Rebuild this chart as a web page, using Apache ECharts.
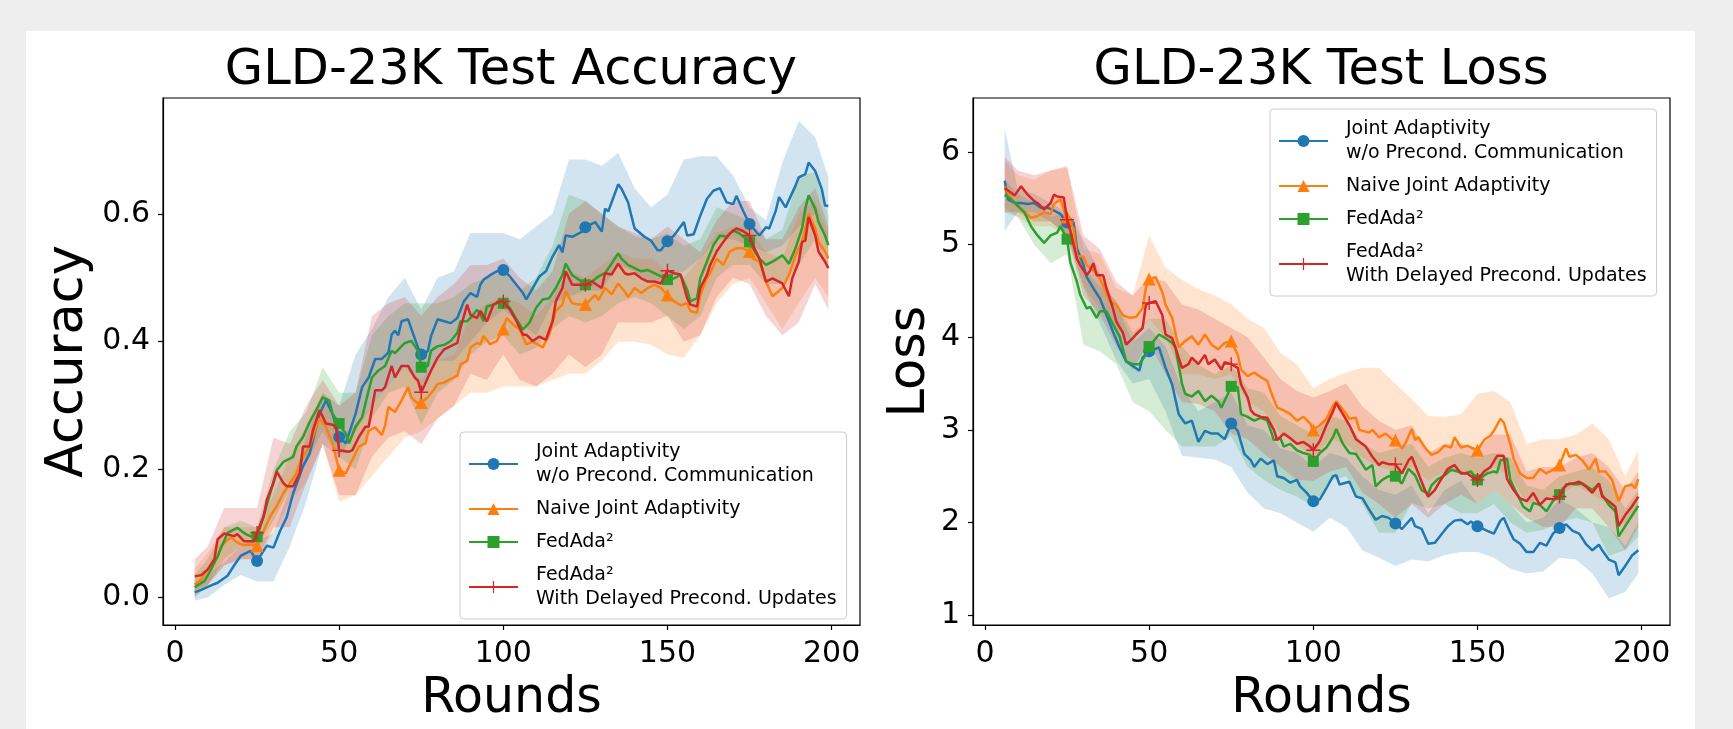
<!DOCTYPE html>
<html>
<head>
<meta charset="utf-8">
<script src="https://cdn.jsdelivr.net/npm/echarts@6/dist/echarts.min.js"></script>
<style>
  html, body { margin: 0; padding: 0; background: #eeeeee; }
  #panel { position: absolute; left: 26px; top: 31px; width: 1669px; height: 698px; background: #ffffff; }
  #chart { position: absolute; left: 0; top: 0; width: 1733px; height: 729px; }
</style>
</head>
<body>
<div id="panel"></div>
<div id="chart"></div>
<script>
// legend labels / series names
const seriesNames = [
  'Joint Adaptivity\nw/o Precond. Communication',
  'Naive Joint Adaptivity',
  'FedAda²',
  'FedAda²\nWith Delayed Precond. Updates'
];
const roundTicks = [0, 50, 100, 150, 200];
const accTicks = [0, 0.2, 0.4, 0.6];
const lossTicks = [1, 2, 3, 4, 5, 6];
const markerRounds = [25, 50, 75, 100, 125, 150, 175];

// ---- test accuracy, mean curves [round, value]
const accJoint = [[6,.008],[8,.012],[11,.019],[13,.023],[16,.034],[18,.05],[20,.065],[23,.073],[25,.057],[28,.081],[30,.078],[32,.104],[34,.125],[36,.163],[39,.205],[41,.225],[44,.287],[46,.308],[48,.287],[50,.251],[52,.241],[55,.287],[57,.329],[59,.344],[61,.373],[63,.373],[65,.383],[66,.411],[67,.417],[68,.41],[69,.432],[71,.435],[72,.42],[74,.391],[75,.380],[77,.385],[78,.409],[80,.435],[82,.432],[84,.429],[86,.437],[88,.463],[90,.476],[92,.47],[93,.489],[94,.497],[96,.504],[98,.51],[100,.512],[102,.502],[104,.489],[106,.476],[107,.466],[109,.484],[111,.502],[113,.51],[115,.533],[117,.551],[118,.54],[119,.566],[121,.564],[124,.572],[125,.579],[128,.587],[130,.572],[131,.608],[132,.604],[135,.646],[136,.639],[138,.618],[139,.597],[140,.577],[143,.564],[145,.558],[147,.543],[148,.543],[150,.557],[152,.566],[155,.587],[156,.566],[158,.568],[160,.597],[162,.623],[164,.636],[166,.64],[168,.618],[170,.615],[171,.628],[173,.605],[175,.584],[178,.566],[180,.579],[181,.577],[183,.605],[184,.626],[186,.61],[189,.644],[190,.657],[192,.662],[193,.68],[195,.667],[197,.639],[198,.613],[199,.612]];
const accNaive = [[6,.020],[8,.029],[10,.044],[13,.063],[14,.081],[17,.094],[19,.086],[21,.082],[23,.083],[25,.081],[27,.104],[29,.127],[31,.143],[33,.163],[35,.179],[37,.194],[39,.22],[41,.236],[43,.267],[44,.28],[46,.267],[48,.241],[50,.199],[52,.194],[54,.215],[56,.236],[58,.241],[59,.261],[61,.266],[63,.254],[64,.269],[65,.298],[67,.29],[69,.308],[71,.329],[72,.313],[74,.303],[75,.305],[77,.313],[79,.326],[80,.334],[82,.336],[84,.342],[86,.347],[87,.365],[89,.37],[90,.391],[92,.398],[93,.396],[94,.409],[96,.396],[98,.401],[100,.42],[101,.437],[103,.427],[105,.419],[107,.396],[109,.40],[112,.391],[114,.411],[116,.448],[118,.458],[119,.479],[121,.46],[123,.458],[125,.458],[128,.473],[129,.465],[131,.484],[133,.474],[135,.491],[137,.478],[138,.47],[140,.484],[142,.476],[144,.484],[146,.489],[148,.484],[150,.473],[152,.463],[154,.457],[156,.46],[157,.448],[159,.445],[160,.473],[162,.499],[163,.507],[165,.53],[167,.52],[169,.541],[171,.546],[173,.546],[175,.541],[176,.53],[178,.525],[180,.494],[182,.471],[185,.484],[187,.504],[189,.535],[191,.556],[192,.577],[193,.60],[195,.577],[196,.556],[198,.541],[199,.53]];
const accFedAda = [[6,.016],[9,.026],[11,.044],[13,.065],[16,.101],[19,.109],[21,.101],[22,.098],[24,.094],[25,.095],[27,.127],[29,.163],[31,.199],[33,.212],[36,.22],[37,.236],[39,.251],[41,.274],[43,.293],[45,.313],[47,.308],[48,.287],[50,.272],[52,.256],[53,.241],[55,.267],[57,.282],[59,.324],[60,.344],[62,.355],[64,.362],[66,.386],[67,.382],[70,.398],[72,.401],[74,.386],[75,.36],[77,.362],[78,.386],[80,.393],[82,.395],[84,.401],[86,.414],[87,.432],[89,.432],[90,.437],[92,.45],[93,.443],[94,.432],[95,.455],[97,.458],[99,.463],[100,.46],[102,.453],[104,.435],[106,.419],[108,.43],[110,.453],[112,.466],[114,.468],[116,.484],[118,.504],[119,.522],[121,.504],[123,.497],[125,.489],[127,.494],[129,.502],[131,.507],[133,.522],[135,.538],[136,.53],[138,.52],[140,.515],[142,.51],[144,.512],[146,.507],[148,.502],[150,.497],[152,.499],[154,.504],[156,.481],[157,.463],[159,.468],[160,.499],[162,.525],[164,.551],[166,.566],[168,.564],[170,.574],[172,.569],[175,.556],[176,.546],[178,.53],[180,.52],[182,.525],[185,.535],[187,.522],[189,.546],[191,.577],[192,.608],[193,.629],[195,.608],[196,.587],[198,.566],[199,.551]];
const accDelayed = [[6,.033],[8,.035],[10,.044],[12,.06],[13,.091],[15,.10],[18,.096],[19,.099],[21,.088],[22,.088],[24,.088],[25,.101],[27,.127],[28,.153],[30,.179],[31,.197],[33,.179],[34,.174],[36,.174],[38,.194],[39,.236],[41,.236],[42,.261],[44,.293],[46,.272],[48,.27],[49,.267],[50,.23],[53,.228],[54,.23],[56,.251],[58,.267],[59,.267],[61,.324],[63,.324],[64,.329],[66,.362],[67,.344],[69,.362],[71,.362],[73,.344],[74,.339],[75,.321],[76,.332],[78,.355],[80,.375],[82,.388],[84,.393],[86,.398],[87,.422],[89,.458],[90,.442],[92,.437],[93,.448],[95,.432],[97,.458],[99,.463],[100,.463],[102,.45],[104,.432],[106,.411],[107,.411],[109,.401],[111,.408],[113,.403],[115,.432],[116,.463],[118,.484],[119,.51],[121,.489],[123,.489],[125,.489],[127,.494],[130,.484],[131,.507],[133,.505],[135,.522],[137,.507],[138,.505],[140,.507],[142,.499],[144,.494],[146,.494],[148,.491],[150,.511],[152,.507],[154,.505],[156,.468],[157,.458],[159,.455],[160,.484],[162,.504],[163,.52],[165,.541],[167,.556],[169,.569],[171,.577],[173,.573],[175,.566],[176,.551],[178,.53],[180,.494],[182,.499],[185,.491],[187,.471],[188,.499],[190,.525],[191,.556],[192,.558],[193,.595],[195,.566],[196,.541],[198,.525],[199,.515]];

// ---- shaded bands (std), sampled rounds
const bandRounds = [6,10,15,20,25,30,35,40,45,50,55,60,65,70,75,80,85,90,95,100,105,110,115,120,125,130,135,140,145,150,155,160,165,170,175,180,185,190,195,199];
const accJointHigh = [.02,.035,.055,.08,.09,.10,.17,.25,.32,.30,.38,.42,.47,.50,.45,.50,.51,.57,.57,.57,.56,.58,.60,.685,.685,.675,.695,.64,.61,.63,.685,.69,.69,.66,.61,.59,.68,.745,.72,.657];
const accJointLow = [-.005,0,.02,.035,.025,.025,.08,.15,.24,.22,.26,.30,.33,.36,.33,.37,.37,.40,.43,.45,.43,.41,.46,.47,.48,.48,.52,.51,.49,.50,.51,.53,.56,.56,.55,.54,.55,.58,.60,.56];
const accNaiveHigh = [.045,.07,.11,.11,.11,.16,.22,.27,.32,.25,.27,.30,.33,.36,.34,.37,.38,.44,.46,.47,.46,.44,.47,.51,.50,.52,.54,.53,.53,.51,.50,.53,.57,.58,.58,.54,.53,.60,.62,.57];
const accNaiveLow = [0,.02,.05,.06,.06,.10,.15,.18,.24,.15,.16,.19,.22,.25,.26,.28,.30,.32,.32,.33,.33,.33,.34,.35,.35,.37,.40,.40,.395,.38,.375,.41,.46,.49,.50,.46,.42,.46,.50,.47];
const accFedAdaHigh = [.035,.06,.11,.12,.11,.20,.26,.29,.36,.32,.32,.41,.44,.46,.46,.46,.47,.49,.50,.51,.48,.50,.55,.63,.62,.60,.58,.565,.56,.57,.55,.56,.61,.60,.59,.56,.575,.66,.665,.597];
const accFedAdaLow = [0,.02,.06,.08,.08,.12,.17,.21,.26,.22,.20,.28,.32,.33,.27,.32,.34,.38,.40,.41,.38,.39,.42,.44,.43,.44,.46,.47,.46,.44,.42,.44,.50,.52,.52,.49,.49,.52,.56,.51];
const accDelayedHigh = [.06,.08,.14,.14,.14,.25,.24,.30,.34,.30,.32,.44,.46,.47,.44,.47,.49,.52,.52,.53,.50,.48,.51,.60,.62,.60,.58,.57,.56,.58,.56,.54,.59,.62,.62,.56,.56,.61,.64,.58];
const accDelayedLow = [.01,.02,.05,.06,.06,.11,.11,.18,.24,.16,.16,.22,.25,.26,.24,.28,.30,.35,.34,.38,.34,.33,.35,.38,.36,.38,.43,.43,.43,.44,.40,.41,.47,.50,.49,.44,.41,.43,.49,.45];

// ---- test loss, mean curves [round, value]
const lossJoint = [[6,5.69],[7,5.49],[9,5.45],[11,5.45],[13,5.44],[15,5.45],[17,5.40],[19,5.40],[21,5.37],[23,5.33],[25,5.24],[27,5.24],[28,4.96],[30,4.78],[31,4.65],[33,4.53],[35,4.42],[37,4.24],[39,4.06],[41,3.89],[43,3.74],[45,3.69],[47,3.64],[48,3.78],[50,3.85],[53,3.89],[55,3.67],[57,3.49],[59,3.17],[61,3.07],[63,3.10],[65,2.87],[67,2.99],[69,2.96],[71,2.96],[73,2.90],[75,3.07],[77,2.99],[79,2.74],[81,2.67],[82,2.60],[84,2.69],[86,2.63],[88,2.67],[89,2.50],[91,2.48],[93,2.43],[95,2.46],[96,2.39],[98,2.32],[100,2.23],[102,2.25],[104,2.37],[106,2.50],[107,2.51],[108,2.41],[111,2.44],[113,2.28],[115,2.26],[117,2.14],[119,2.03],[121,2.07],[123,2.05],[125,1.99],[127,1.93],[130,2.05],[131,1.96],[133,1.93],[135,1.77],[137,1.78],[139,1.87],[141,1.96],[143,2.02],[145,2.03],[147,1.98],[148,2.01],[150,1.96],[153,1.91],[155,1.88],[157,2.02],[158,2.05],[160,1.89],[161,1.82],[163,1.77],[165,1.68],[167,1.68],[169,1.78],[171,1.75],[173,1.88],[175,1.94],[177,1.98],[179,1.91],[181,1.88],[183,1.77],[185,1.70],[187,1.76],[188,1.70],[190,1.60],[192,1.57],[193,1.43],[195,1.53],[197,1.64],[199,1.70]];
const lossNaive = [[6,5.63],[8,5.49],[10,5.42],[12,5.35],[14,5.29],[16,5.31],[18,5.35],[20,5.33],[21,5.44],[23,5.49],[24,5.38],[25,5.30],[27,5.17],[28,4.88],[30,4.87],[31,4.78],[33,4.72],[34,4.70],[36,4.56],[38,4.39],[40,4.35],[42,4.24],[44,4.21],[46,4.22],[48,4.31],[49,4.53],[50,4.63],[52,4.65],[54,4.49],[55,4.35],[57,4.21],[59,3.89],[61,3.96],[63,4.01],[65,3.92],[67,4.03],[69,3.92],[71,3.87],[73,3.94],[75,3.96],[77,3.81],[78,3.65],[80,3.58],[82,3.62],[84,3.57],[86,3.53],[87,3.42],[89,3.24],[91,3.21],[93,3.17],[95,3.10],[97,3.14],[99,3.07],[100,3.0],[102,3.05],[104,3.12],[106,3.26],[107,3.31],[109,3.22],[111,3.12],[113,3.13],[114,3.0],[117,2.97],[118,3.0],[120,2.92],[122,2.96],[124,2.90],[125,2.89],[127,2.80],[128,2.85],[130,3.01],[131,2.89],[132,2.92],[134,2.81],[136,2.73],[138,2.76],[140,2.83],[142,2.81],[143,2.92],[145,2.81],[147,2.83],[148,2.81],[150,2.78],[152,2.89],[154,2.94],[155,2.99],[157,3.12],[158,3.08],[160,2.85],[161,2.69],[163,2.53],[165,2.48],[167,2.48],[169,2.58],[171,2.53],[173,2.57],[175,2.62],[177,2.80],[178,2.71],[180,2.73],[182,2.67],[184,2.57],[186,2.69],[187,2.55],[189,2.55],[191,2.46],[193,2.23],[195,2.39],[197,2.41],[198,2.37],[199,2.47]];
const lossFedAda = [[6,5.54],[8,5.49],[10,5.42],[12,5.35],[14,5.20],[16,5.10],[18,5.02],[20,5.10],[22,5.13],[23,5.20],[25,5.06],[26,4.81],[28,4.60],[29,4.46],[31,4.31],[32,4.33],[34,4.21],[35,4.28],[37,4.28],[39,4.14],[41,4.01],[43,3.74],[45,3.71],[47,3.71],[49,3.81],[50,3.90],[53,4.03],[55,3.99],[57,3.94],[58,3.89],[60,3.50],[61,3.39],[63,3.36],[65,3.42],[67,3.31],[69,3.37],[71,3.31],[72,3.24],[74,3.39],[75,3.47],[77,3.46],[78,3.17],[80,3.14],[82,3.10],[84,3.13],[86,3.10],[88,2.89],[90,2.91],[91,2.82],[93,2.85],[95,2.78],[97,2.75],[99,2.73],[100,2.66],[102,2.75],[104,2.81],[106,2.92],[107,3.01],[109,2.85],[111,2.75],[113,2.74],[116,2.57],[118,2.62],[119,2.39],[121,2.46],[123,2.50],[125,2.50],[127,2.42],[129,2.58],[131,2.51],[133,2.35],[135,2.31],[136,2.40],[138,2.47],[140,2.51],[142,2.57],[145,2.54],[146,2.53],[148,2.55],[150,2.46],[153,2.53],[155,2.55],[156,2.54],[157,2.67],[159,2.69],[160,2.46],[162,2.31],[164,2.17],[166,2.12],[167,2.21],[169,2.19],[171,2.12],[173,2.23],[175,2.30],[176,2.37],[178,2.42],[180,2.41],[182,2.42],[185,2.35],[187,2.42],[188,2.30],[190,2.19],[192,2.12],[193,1.85],[195,1.96],[197,2.07],[199,2.18]];
const lossDelayed = [[6,5.61],[8,5.56],[9,5.53],[11,5.63],[13,5.54],[15,5.47],[16,5.45],[18,5.38],[20,5.45],[21,5.54],[22,5.52],[24,5.51],[25,5.27],[26,5.15],[28,4.85],[29,4.78],[31,4.67],[32,4.72],[33,4.80],[34,4.67],[36,4.67],[37,4.53],[39,4.31],[40,4.17],[42,4.05],[43,3.92],[45,3.99],[46,4.03],[48,4.10],[49,4.35],[50,4.37],[52,4.39],[54,4.24],[55,4.03],[57,3.99],[58,3.89],[60,3.67],[62,3.71],[63,3.78],[65,3.71],[67,3.81],[68,3.71],[70,3.76],[72,3.65],[73,3.73],[75,3.71],[77,3.67],[78,3.49],[80,3.35],[81,3.21],[82,3.17],[84,3.14],[86,3.13],[88,3.0],[89,2.89],[91,2.96],[93,2.91],[95,2.85],[97,2.87],[99,2.82],[100,2.78],[102,2.88],[104,3.05],[106,3.20],[107,3.29],[109,3.17],[111,3.05],[113,2.90],[116,2.82],[118,2.71],[120,2.62],[121,2.65],[123,2.63],[125,2.63],[127,2.53],[129,2.67],[130,2.71],[132,2.53],[134,2.35],[135,2.28],[137,2.35],[139,2.47],[141,2.58],[143,2.62],[145,2.53],[147,2.53],[148,2.50],[150,2.46],[152,2.55],[154,2.60],[156,2.72],[158,2.72],[159,2.47],[161,2.35],[163,2.26],[165,2.23],[167,2.32],[169,2.19],[171,2.26],[173,2.25],[175,2.28],[177,2.41],[179,2.42],[181,2.44],[183,2.39],[185,2.32],[187,2.42],[188,2.28],[190,2.23],[192,2.17],[193,1.96],[195,2.08],[197,2.17],[199,2.28]];

const lossJointHigh = [6.25,5.6,5.55,5.45,5.35,5.05,4.7,4.35,3.95,4.1,3.9,3.45,3.2,3.3,3.4,3.05,3.0,2.8,2.75,2.6,2.75,2.7,2.5,2.35,2.3,2.4,2.1,2.35,2.45,2.2,2.35,2.2,2.0,2.05,2.25,2.15,2.0,1.95,1.75,2.0];
const lossJointLow = [5.15,5.35,5.35,5.25,5.1,4.55,4.15,3.75,3.5,3.55,3.2,2.72,2.7,2.68,2.6,2.32,2.15,2.1,2.0,1.9,2.05,1.95,1.7,1.62,1.53,1.6,1.58,1.65,1.68,1.68,1.62,1.5,1.45,1.47,1.62,1.6,1.45,1.18,1.25,1.45];
const lossNaiveHigh = [5.9,5.75,5.7,5.8,5.83,4.96,4.9,4.53,4.45,5.1,4.75,4.62,4.52,4.45,4.36,4.2,4.1,3.83,3.71,3.45,3.55,3.62,3.67,3.67,3.5,3.33,3.15,3.14,3.17,3.39,3.42,3.3,2.85,2.9,2.9,2.95,3.07,2.9,2.5,2.78];
const lossNaiveLow = [5.4,5.3,5.2,5.2,5.1,4.55,4.3,4.1,3.95,4.2,4.0,3.6,3.6,3.55,3.6,3.3,3.2,2.95,2.85,2.7,2.9,2.85,2.7,2.6,2.55,2.6,2.45,2.55,2.55,2.45,2.6,2.5,2.2,2.25,2.3,2.4,2.3,2.2,1.95,2.2];
const lossFedAdaHigh = [5.7,5.55,5.45,5.3,5.35,4.75,4.55,4.4,4.05,4.2,4.2,3.9,3.7,3.6,3.7,3.45,3.4,3.15,3.05,2.95,3.15,3.1,2.85,2.75,2.8,2.85,2.6,2.7,2.75,2.7,2.75,2.7,2.4,2.35,2.5,2.55,2.6,2.45,2.15,2.35];
const lossFedAdaLow = [5.35,5.3,5.0,4.8,4.9,3.92,3.85,3.71,3.3,3.2,3.0,2.82,2.82,2.82,2.93,2.6,2.46,2.35,2.28,2.17,2.45,2.5,2.2,1.89,1.89,2.21,2.15,2.2,2.1,2.1,2.2,2.0,1.89,1.92,2.0,2.05,2.0,1.64,1.7,1.85];
const lossDelayedHigh = [5.95,5.8,5.75,5.8,5.85,5.1,4.95,4.6,4.45,4.65,4.6,4.35,4.3,4.2,4.1,4.0,3.78,3.55,3.42,3.35,3.42,3.5,3.25,3.1,3.0,3.05,2.75,2.85,2.85,2.8,2.95,2.95,2.55,2.6,2.6,2.7,2.75,2.6,2.35,2.55];
const lossDelayedLow = [5.35,5.35,5.25,5.25,5.1,4.45,4.25,3.9,3.65,3.95,3.6,3.3,3.28,3.2,2.96,2.9,2.74,2.6,2.46,2.45,2.55,2.6,2.32,2.2,2.05,2.2,2.05,2.2,2.3,2.2,2.35,2.2,2.05,1.95,1.95,2.15,2.15,1.95,1.7,1.95];

const colors = ['#1f77b4', '#ff7f0e', '#2ca02c', '#d62728'];
const plusPath = 'path://M9,0H11V9H20V11H11V20H9V11H0V9H9Z';
const symbols = ['circle', 'triangle', 'rect', plusPath];
const symbolSizes = [12, 13, 11, 14];
const FONT = 'DejaVu Sans';

function lineSeries (k, data, idx) {
  return {
    type: 'line',
    name: seriesNames[k],
    xAxisIndex: idx,
    yAxisIndex: idx,
    data: data,
    z: 3 + k,
    symbol: symbols[k],
    symbolSize: function (val) {
      return markerRounds.indexOf(val[0]) >= 0 ? symbolSizes[k] : 0
    },
    showSymbol: true,
    color: colors[k],
    itemStyle: { color: colors[k], opacity: 1 },
    lineStyle: { color: colors[k], width: 2.5 },
    emphasis: { disabled: true }
  }
}

// band between low/high drawn through the axis scales
function bandSeries (k, low, high, idx) {
  return {
    type: 'custom',
    name: 'band' + idx + k,
    xAxisIndex: idx,
    yAxisIndex: idx,
    silent: true,
    z: 1,
    data: [[bandRounds[0], low[0]]],
    renderItem: function (params, api) {
      const pts = []
      for (let i = 0; i < bandRounds.length; i++) pts.push(api.coord([bandRounds[i], high[i]]))
      for (let i = bandRounds.length - 1; i >= 0; i--) pts.push(api.coord([bandRounds[i], low[i]]))
      return {
        type: 'polygon',
        shape: { points: pts },
        style: { fill: colors[k], opacity: 0.2 }
      }
    }
  }
}

function makeXAxis (idx) {
  return {
    gridIndex: idx,
    type: 'value',
    min: -3.65,
    max: 208.65,
    name: 'Rounds',
    nameLocation: 'middle',
    nameGap: 50,
    nameTextStyle: { fontSize: 49, color: '#000', fontFamily: FONT },
    axisLine: { show: true, onZero: false, lineStyle: { color: '#000', width: 1.2 } },
    axisTick: { show: true, length: 5, lineStyle: { color: '#000', width: 1.2 }, customValues: roundTicks },
    axisLabel: { fontSize: 30, color: '#000', fontFamily: FONT, margin: 14, customValues: roundTicks },
    splitLine: { show: false }
  }
}

function makeLegend (left, top) {
  return {
    data: seriesNames,
    orient: 'vertical',
    left: left,
    top: top,
    itemWidth: 49,
    itemHeight: 15,
    itemGap: 9,
    padding: [8, 10, 8, 8],
    selectedMode: false,
    backgroundColor: 'rgba(255,255,255,0.8)',
    borderColor: '#cccccc',
    borderWidth: 1,
    borderRadius: 4,
    textStyle: { fontFamily: FONT, fontSize: 19, color: '#000', lineHeight: 24, padding: [0, 0, 0, 13] }
  }
}

const chart = echarts.init(document.getElementById('chart'), null, { renderer: 'canvas' })

const option = {
  animation: false,
  textStyle: { fontFamily: FONT },
  title: [
    { text: 'GLD-23K Test Accuracy', left: 511, top: 46, textAlign: 'center', padding: 0,
      textStyle: { fontSize: 49.5, fontWeight: 'normal', color: '#000', fontFamily: FONT } },
    { text: 'GLD-23K Test Loss', left: 1321, top: 46, textAlign: 'center', padding: 0,
      textStyle: { fontSize: 49.5, fontWeight: 'normal', color: '#000', fontFamily: FONT } }
  ],
  legend: [makeLegend(460, 432), makeLegend(1270, 109)],
  grid: [
    { left: 163, top: 98, width: 697, height: 532, show: true, borderColor: '#000', borderWidth: 1.2, backgroundColor: '#fff' },
    { left: 973, top: 98, width: 697, height: 532, show: true, borderColor: '#000', borderWidth: 1.2, backgroundColor: '#fff' }
  ],
  xAxis: [makeXAxis(0), makeXAxis(1)],
  yAxis: [
    {
      gridIndex: 0, type: 'value', min: -0.043, max: 0.781,
      name: 'Accuracy', nameLocation: 'middle', nameGap: 69,
      nameTextStyle: { fontSize: 51, color: '#000', fontFamily: FONT },
      axisLine: { show: true, onZero: false, lineStyle: { color: '#000', width: 1.2 } },
      axisTick: { show: true, length: 5, lineStyle: { color: '#000', width: 1.2 }, customValues: accTicks },
      axisLabel: { fontSize: 30, color: '#000', fontFamily: FONT, margin: 13, customValues: accTicks,
        formatter: function (v) { return v.toFixed(1) } },
      splitLine: { show: false }
    },
    {
      gridIndex: 1, type: 'value', min: 0.893, max: 6.584,
      name: 'Loss', nameLocation: 'middle', nameGap: 37,
      nameTextStyle: { fontSize: 51, color: '#000', fontFamily: FONT },
      axisLine: { show: true, onZero: false, lineStyle: { color: '#000', width: 1.2 } },
      axisTick: { show: true, length: 5, lineStyle: { color: '#000', width: 1.2 }, customValues: lossTicks },
      axisLabel: { fontSize: 30, color: '#000', fontFamily: FONT, margin: 13, customValues: lossTicks },
      splitLine: { show: false }
    }
  ],
  series: [
    bandSeries(0, accJointLow, accJointHigh, 0),
    bandSeries(1, accNaiveLow, accNaiveHigh, 0),
    bandSeries(2, accFedAdaLow, accFedAdaHigh, 0),
    bandSeries(3, accDelayedLow, accDelayedHigh, 0),
    lineSeries(0, accJoint, 0),
    lineSeries(1, accNaive, 0),
    lineSeries(2, accFedAda, 0),
    lineSeries(3, accDelayed, 0),
    bandSeries(0, lossJointLow, lossJointHigh, 1),
    bandSeries(1, lossNaiveLow, lossNaiveHigh, 1),
    bandSeries(2, lossFedAdaLow, lossFedAdaHigh, 1),
    bandSeries(3, lossDelayedLow, lossDelayedHigh, 1),
    lineSeries(0, lossJoint, 1),
    lineSeries(1, lossNaive, 1),
    lineSeries(2, lossFedAda, 1),
    lineSeries(3, lossDelayed, 1)
  ]
}

chart.setOption(option)
</script>
</body>
</html>
